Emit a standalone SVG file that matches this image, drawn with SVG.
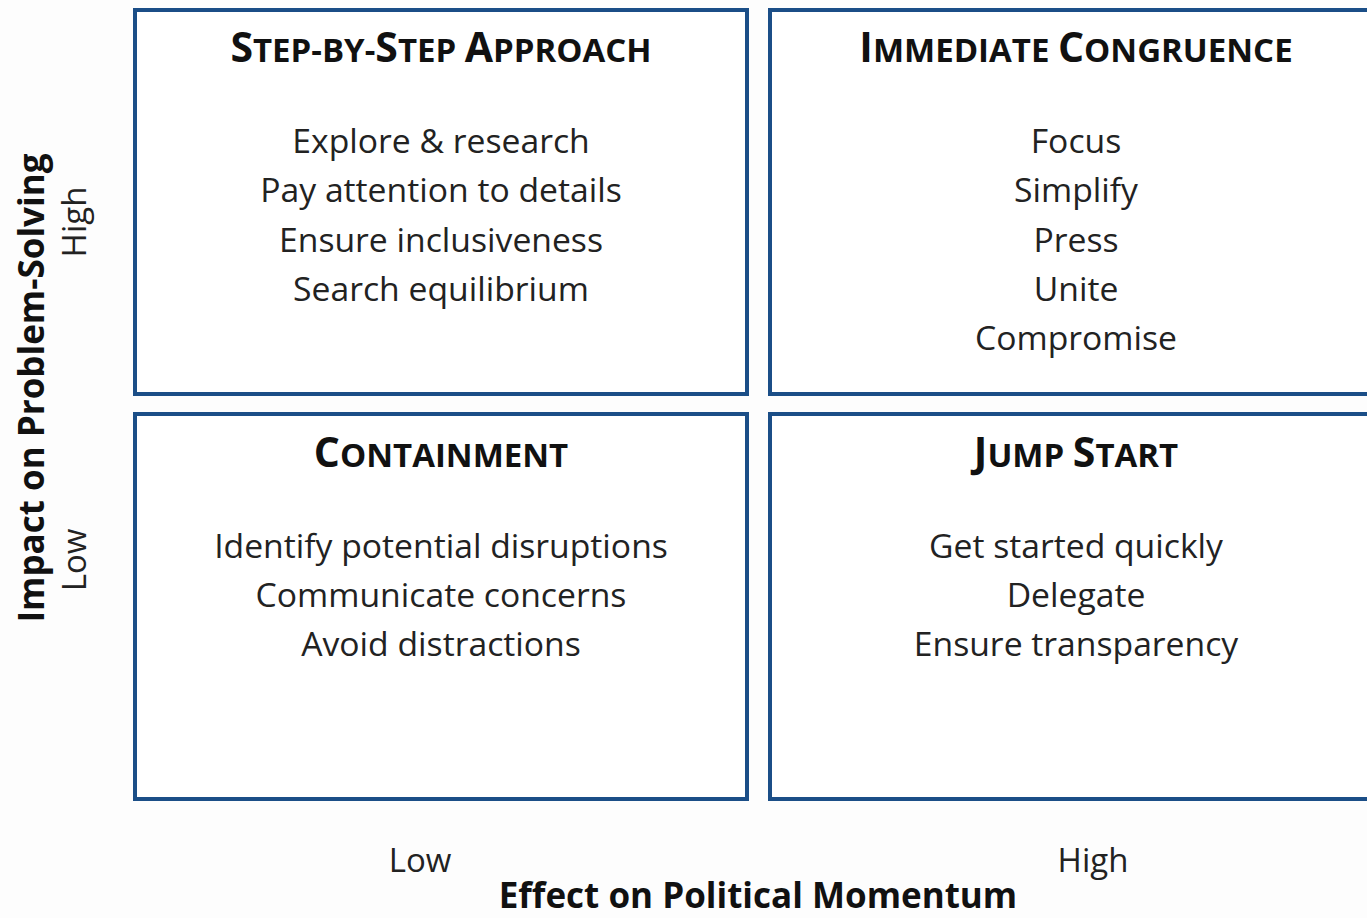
<svg xmlns="http://www.w3.org/2000/svg" width="1367" height="918" viewBox="0 0 1367 918">
<style>
.box{fill:#ffffff;stroke:#1b4e87;stroke-width:4}
.t{font-family:"Open Sans","Liberation Sans",sans-serif;font-weight:700;fill:#111;text-anchor:middle}
.t .L{font-size:41px}
.t .s{font-size:33px}
.b{font-family:"Open Sans","Liberation Sans",sans-serif;font-size:33.7px;fill:#222;text-anchor:middle}
.ax{font-family:"Open Sans","Liberation Sans",sans-serif;font-size:33px;fill:#222;text-anchor:middle}
.axb{font-family:"Open Sans","Liberation Sans",sans-serif;font-size:35px;font-weight:700;fill:#111;text-anchor:middle}
</style>
<rect width="1367" height="918" fill="#fdfdfd"/>
<g id="step-by-step">
<rect class="box" x="135" y="10" width="612" height="384"/>
<text class="t" x="441" y="62"><tspan class="L">S</tspan><tspan class="s">TEP-BY-</tspan><tspan class="L">S</tspan><tspan class="s">TEP </tspan><tspan class="L">A</tspan><tspan class="s">PPROACH</tspan></text>
<text class="b" x="441" y="153">Explore &amp; research</text>
<text class="b" x="441" y="202">Pay attention to details</text>
<text class="b" x="441" y="252">Ensure inclusiveness</text>
<text class="b" x="441" y="301">Search equilibrium</text>
</g>
<g id="immediate-congruence">
<rect class="box" x="770" y="10" width="620" height="384"/>
<text class="t" x="1076" y="62"><tspan class="L">I</tspan><tspan class="s">MMEDIATE </tspan><tspan class="L">C</tspan><tspan class="s">ONGRUENCE</tspan></text>
<text class="b" x="1076" y="153">Focus</text>
<text class="b" x="1076" y="202">Simplify</text>
<text class="b" x="1076" y="252">Press</text>
<text class="b" x="1076" y="301">Unite</text>
<text class="b" x="1076" y="350">Compromise</text>
</g>
<g id="containment">
<rect class="box" x="135" y="414" width="612" height="385"/>
<text class="t" x="441" y="467"><tspan class="L">C</tspan><tspan class="s">ONTAINMENT</tspan></text>
<text class="b" x="441" y="558">Identify potential disruptions</text>
<text class="b" x="441" y="607">Communicate concerns</text>
<text class="b" x="441" y="656">Avoid distractions</text>
</g>
<g id="jump-start">
<rect class="box" x="770" y="414" width="620" height="385"/>
<text class="t" x="1076" y="467"><tspan class="L">J</tspan><tspan class="s">UMP </tspan><tspan class="L">S</tspan><tspan class="s">TART</tspan></text>
<text class="b" x="1076" y="558">Get started quickly</text>
<text class="b" x="1076" y="607">Delegate</text>
<text class="b" x="1076" y="656">Ensure transparency</text>
</g>
<g id="axes">
<text class="ax" x="420" y="872">Low</text>
<text class="ax" x="1093" y="872">High</text>
<text class="axb" x="758" y="908">Effect on Political Momentum</text>
<text class="axb" transform="translate(44,388) rotate(-90)">Impact on Problem-Solving</text>
<text class="ax" transform="translate(86,222) rotate(-90)">High</text>
<text class="ax" transform="translate(86,560) rotate(-90)">Low</text>
</g>
</svg>
